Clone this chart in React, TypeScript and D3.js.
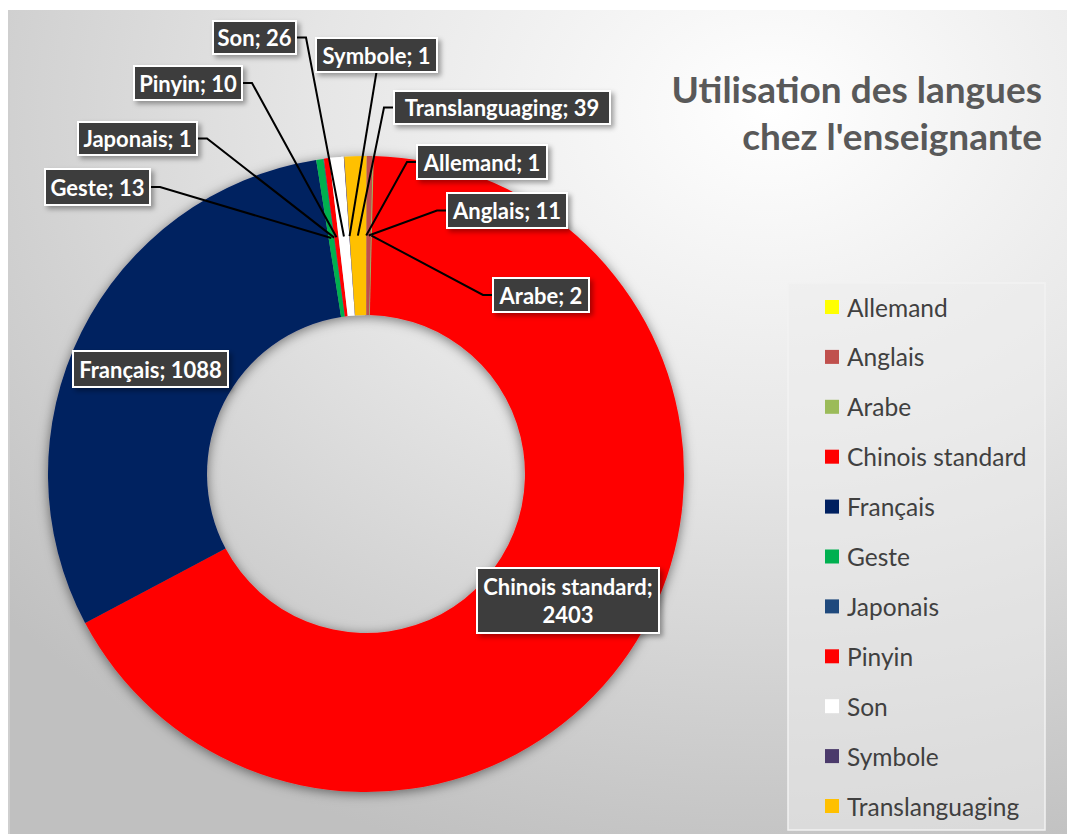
import React from 'react';
import * as d3 from 'd3';

const categories = ['Allemand', 'Anglais', 'Arabe', 'Chinois standard', 'Français', 'Geste', 'Japonais', 'Pinyin', 'Son', 'Symbole', 'Translanguaging'];
const values = [1, 11, 2, 2403, 1088, 13, 1, 10, 26, 1, 39];
const colors = ['#FFFF00', '#C0504D', '#9BBB59', '#FF0000', '#002060', '#00B050', '#1F497D', '#FF0000', '#FFFFFF', '#4B3A6B', '#FFC000'];
const titleLines = ['Utilisation des langues', "chez l'enseignante"];

// layout of the data-label boxes (annotation placement, not data)
const labelLayout = [
  { x: 417, y: 145, w: 130, h: 34, side: 'left' },
  { x: 447, y: 193, w: 120, h: 35, side: 'left' },
  { x: 493, y: 278, w: 96, h: 34, side: 'left' },
  { x: 477, y: 568, w: 182, h: 65, side: 'none' },
  { x: 73, y: 351, w: 155, h: 36, side: 'none' },
  { x: 45, y: 169, w: 105, h: 36, side: 'right' },
  { x: 78, y: 122, w: 119, h: 33, side: 'right' },
  { x: 134, y: 66, w: 108, h: 34, side: 'right' },
  { x: 213, y: 21, w: 83, h: 33, side: 'right' },
  { x: 316, y: 38, w: 121, h: 34, side: 'bottom' },
  { x: 394, y: 91, w: 216, h: 33, side: 'left' },
];

const W = 1067;
const H = 834;
const cx = 366;
const cy = 474;
const R = 318;
const r = 159;
const FONT = 'Lato, "Open Sans", sans-serif';

export default function App() {
  const data = categories.map((c, i) => ({ name: c, value: values[i], color: colors[i] }));
  const pie = d3.pie<any>().sort(null).value((d) => d.value).startAngle(0).endAngle(2 * Math.PI);
  const arcs = pie(data);
  const arc = d3.arc<any>().innerRadius(r).outerRadius(R);
  const midArc = d3.arc<any>().innerRadius(r).outerRadius(R);

  const legendY = d3.scalePoint<string>().domain(categories).range([307, 806]);

  return (
    <div style={{ position: 'fixed', left: 0, top: 0 }}>
      <svg width={W} height={H} style={{ display: 'block', fontFamily: FONT }}>
        <defs>
          <radialGradient id="bg" cx="0.72" cy="0.12" r="0.95" fx="0.72" fy="0.12">
            <stop offset="0" stopColor="#ffffff" />
            <stop offset="0.45" stopColor="#e6e6e6" />
            <stop offset="1" stopColor="#c0c0c0" />
          </radialGradient>
          <filter id="pieShadow" x="-20%" y="-20%" width="140%" height="140%">
            <feDropShadow dx="0" dy="2" stdDeviation="6" floodColor="#000" floodOpacity="0.5" />
          </filter>
          <filter id="boxShadow" x="-20%" y="-30%" width="150%" height="170%">
            <feDropShadow dx="3" dy="3" stdDeviation="2.5" floodColor="#000" floodOpacity="0.35" />
          </filter>
        </defs>
        <rect x={0} y={0} width={W} height={H} fill="#ffffff" />
        <rect x={8} y={10} width={W - 8} height={H - 10} fill="url(#bg)" />
        <line x1={9} y1={10} x2={9} y2={H} stroke="#cfcfcf" strokeWidth={2} />

        <g transform={`translate(${cx},${cy})`} filter="url(#pieShadow)">
          {arcs.map((a, i) => (
            <path key={i} d={arc(a) as string} fill={a.data.color} />
          ))}
        </g>

        {/* leader lines */}
        <g stroke="#000" strokeWidth={2} fill="none">
          {arcs.map((a, i) => {
            const L = labelLayout[i];
            if (L.side === 'none') return null;
            const [mx, my] = midArc.centroid(a);
            const ex = cx + mx;
            const ey = cy + my;
            let pts: [number, number][] = [];
            if (L.side === 'left') {
              const y = L.y + L.h / 2;
              pts = [[L.x, y], [L.x - 10, y], [ex, ey]];
            } else if (L.side === 'right') {
              const y = L.y + L.h / 2;
              pts = [[L.x + L.w, y], [L.x + L.w + 10, y], [ex, ey]];
            } else {
              pts = [[L.x + L.w / 2, L.y + L.h], [ex, ey]];
            }
            return <path key={i} d={d3.line()(pts) as string} />;
          })}
        </g>

        {/* label boxes */}
        {arcs.map((a, i) => {
          const L = labelLayout[i];
          const lines = i === 3 ? [a.data.name + ';', String(a.data.value)] : [`${a.data.name}; ${a.data.value}`];
          const lh = 28;
          const y0 = L.y + L.h / 2 - ((lines.length - 1) * lh) / 2;
          return (
            <g key={i}>
              <rect x={L.x} y={L.y} width={L.w} height={L.h} fill="#3d3d3d" stroke="#ffffff" strokeWidth={2} filter="url(#boxShadow)" />
              {lines.map((t, j) => (
                <text key={j} x={L.x + L.w / 2} y={y0 + j * lh} textAnchor="middle" dominantBaseline="central" fill="#ffffff" fontWeight={700} fontSize={22}>
                  {t}
                </text>
              ))}
            </g>
          );
        })}

        {/* title */}
        {titleLines.map((t, i) => (
          <text key={i} x={1042} y={103 + i * 47} textAnchor="end" fill="#595959" fontWeight={700} fontSize={37}>
            {t}
          </text>
        ))}

        {/* legend */}
        <rect x={788} y={283} width={257} height={547} fill="#ececec" fillOpacity={0.55} stroke="#f2f2f2" strokeWidth={1.5} />
        {categories.map((c, i) => (
          <g key={c} transform={`translate(825,${legendY(c)})`}>
            <rect x={0} y={-7} width={14} height={14} fill={colors[i]} />
            <text x={22} y={0} dominantBaseline="central" fill="#404040" fontSize={24.5}>
              {c}
            </text>
          </g>
        ))}
      </svg>
    </div>
  );
}
